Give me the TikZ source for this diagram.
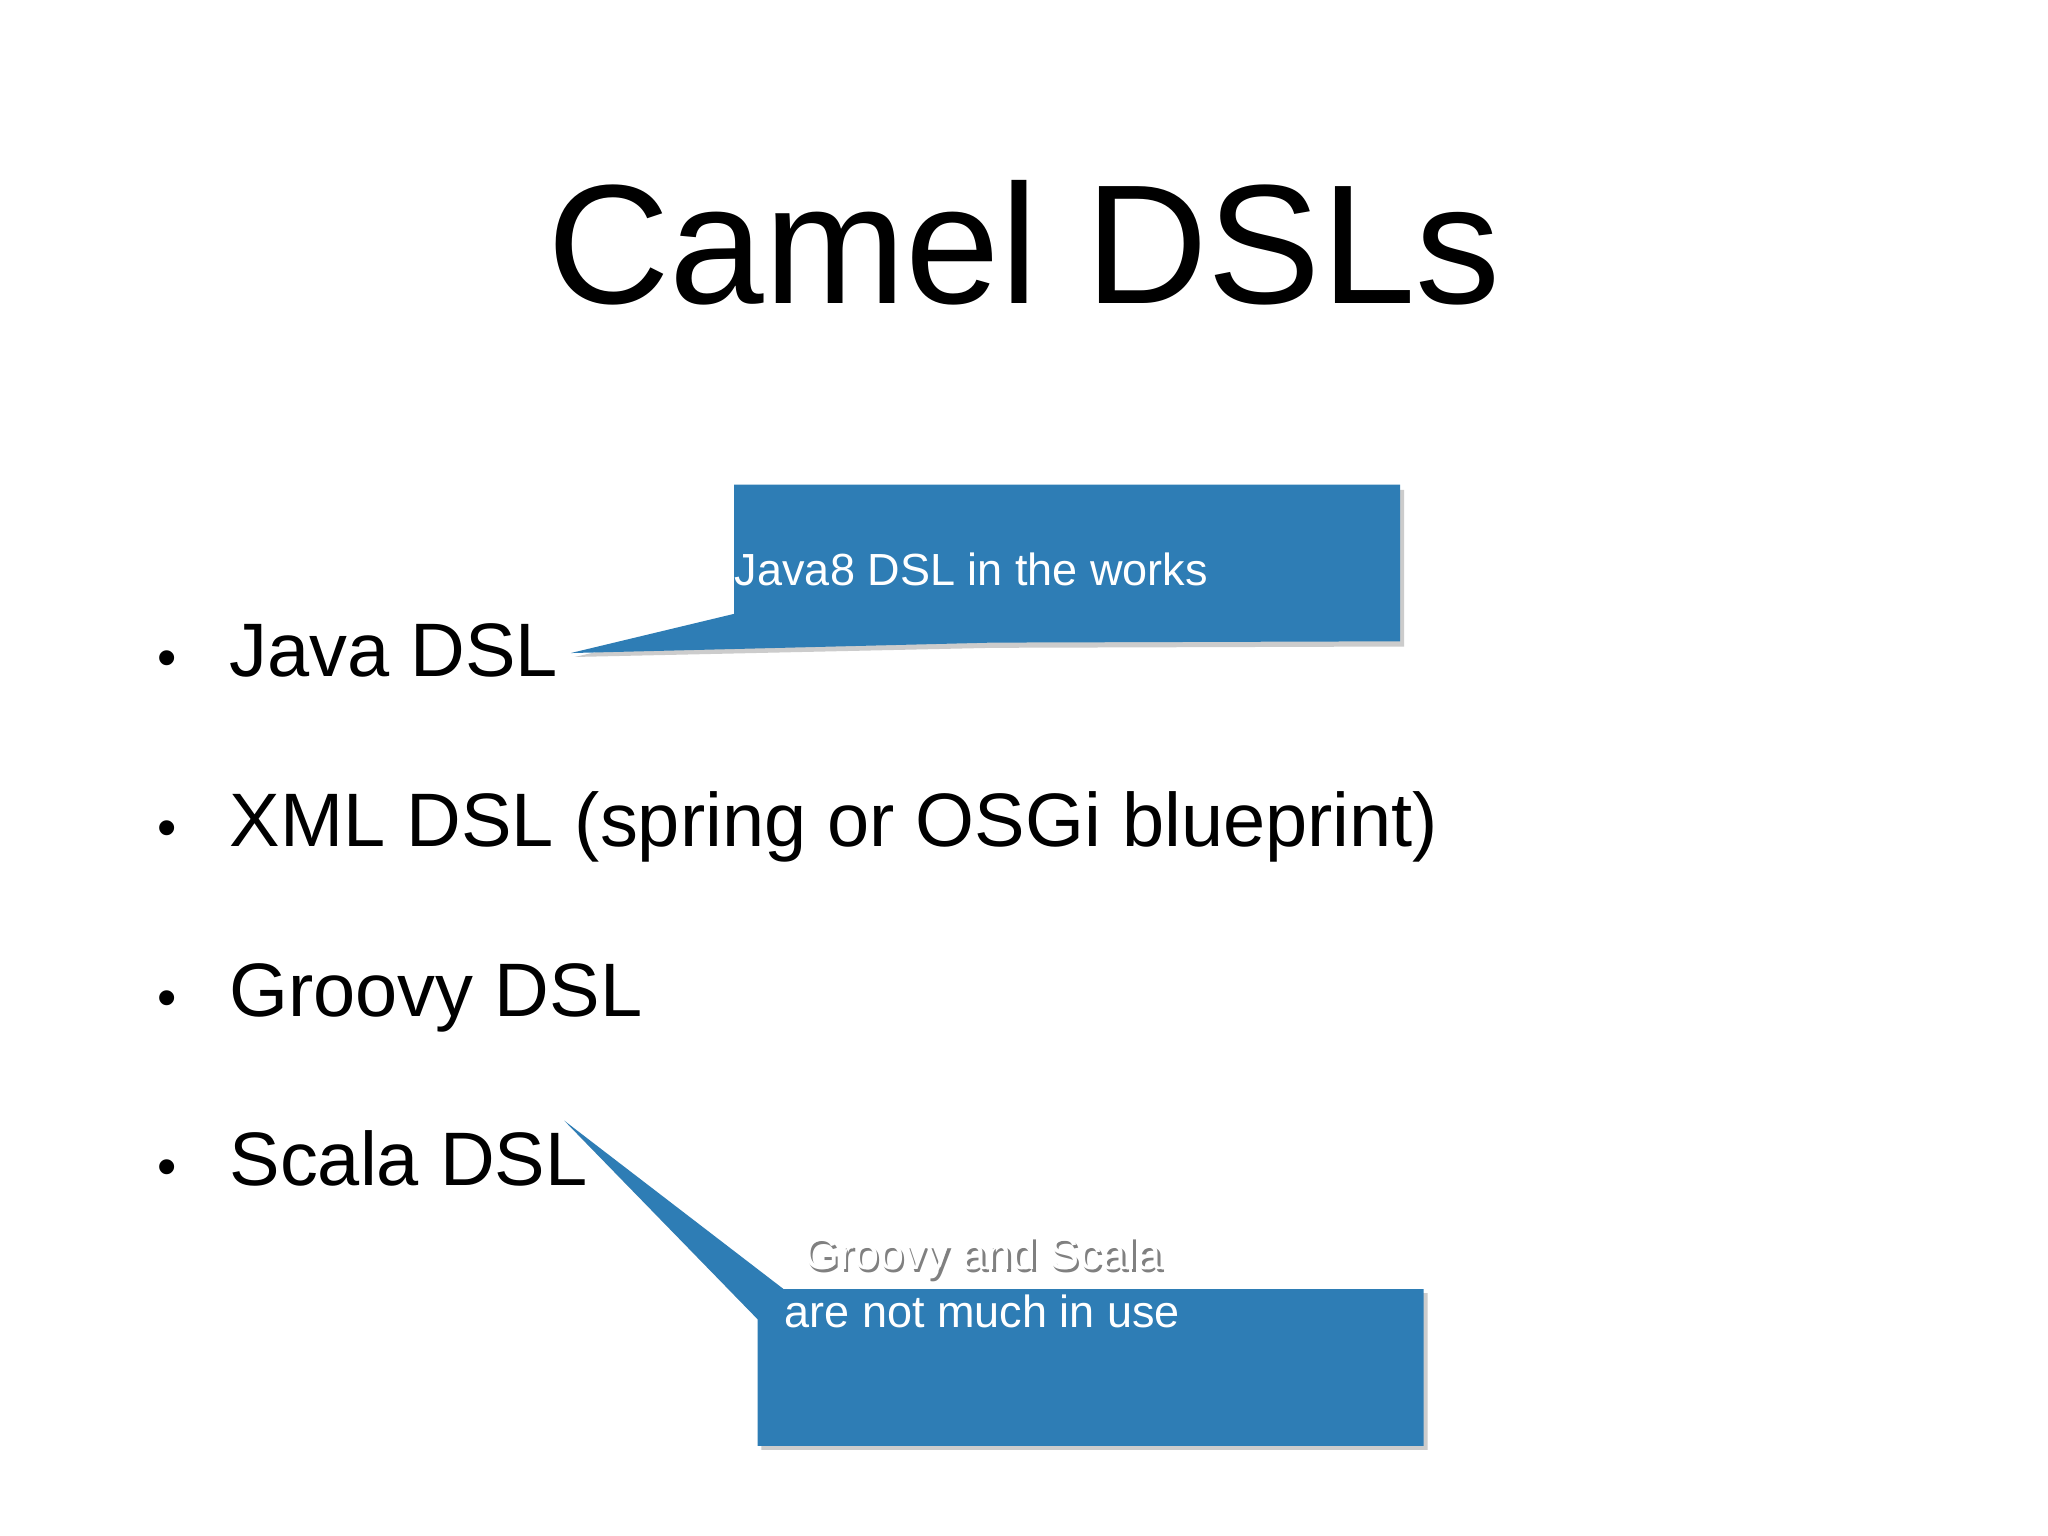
\documentclass[tikz,border=0pt]{standalone}
\usepackage{fontspec}
\setmainfont{Liberation Sans}
\definecolor{callout}{HTML}{2E7DB5}
\begin{document}
\begin{tikzpicture}[x=0.01cm,y=-0.01cm,
  bul/.style={anchor=base west,font=\fontsize{16.5}{18}\selectfont,inner sep=0},
  dot/.style={anchor=base,font=\fontsize{12}{14}\selectfont,inner sep=0},
  ctext/.style={anchor=base west,text=white,font=\fontsize{9.8}{11}\selectfont,inner sep=0},
  box/.style={fill=callout,draw=none,rounded corners=2pt,drop shadow/.try}]
\fill[white] (0,0) rectangle (1568,1176);
\useasboundingbox (0,0) rectangle (1568,1176);
\node[anchor=base,font=\fontsize{37}{40}\selectfont,inner sep=0] (title) at (784,232) {Camel DSLs};
% callout 1
\fill[gray!40] (565,375) -- (1075,375) -- (1075,495) -- (760,496) -- (440,503) -- (565,474) -- cycle;
\fill[callout] (562,371) -- (1072,371) -- (1072,491) -- (760,492) -- (437,500) -- (562,470) -- cycle;
% callout 2
\fill[gray!40] (583,990) -- (1093,990) -- (1093,1110) -- (583,1110) -- (583,1013) -- (435,861) -- (603,990) -- cycle;
\fill[callout] (580,987) -- (1090,987) -- (1090,1107) -- (580,1107) -- (580,1010) -- (432,858) -- (600,987) -- cycle;
\foreach \n/\t/\y in {a/Java DSL/518,b/XML DSL (spring or OSGi blueprint)/648,c/Groovy DSL/778,d/Scala DSL/908}{
  \node[dot] (d\n) at (128,\y) {\textbullet};
  \node[bul] (\n) at (175,\y) {\t};
}
\node[ctext] (c1) at (562,448) {Java8 DSL in the works};
\node[ctext,text=gray] at (617,974) {Groovy and Scala};
\node[ctext] (c2a) at (615,972) {Groovy and Scala};
\node[ctext] (c2b) at (600,1016) {are not much in use};
\end{tikzpicture}
\end{document}
